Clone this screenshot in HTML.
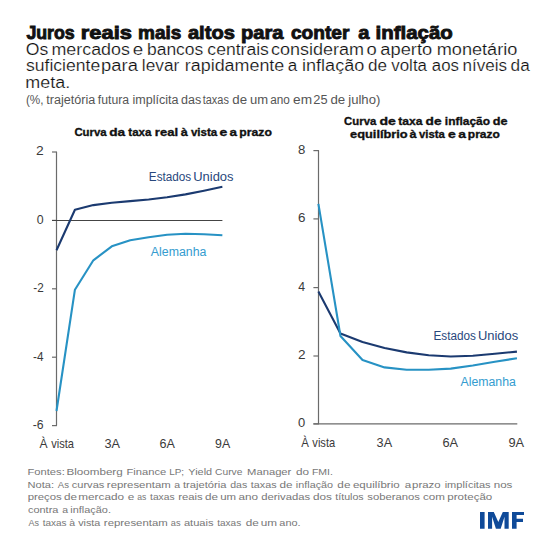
<!DOCTYPE html>
<html><head><meta charset="utf-8"><style>
html,body{margin:0;padding:0;background:#fff;width:550px;height:550px;overflow:hidden}
svg{display:block;font-family:"Liberation Sans", sans-serif}
</style></head><body>
<svg width="550" height="550" viewBox="0 0 550 550">
<rect width="550" height="550" fill="#fff"/>
<text x="26.38" y="38.7" font-size="19" font-weight="bold" fill="#111" text-anchor="start" textLength="48.39" lengthAdjust="spacingAndGlyphs" stroke="#111" stroke-width="0.9">Juros</text>
<text x="80.83" y="38.7" font-size="19" font-weight="bold" fill="#111" text-anchor="start" textLength="51.11" lengthAdjust="spacingAndGlyphs" stroke="#111" stroke-width="0.9">reais</text>
<text x="138.11" y="38.7" font-size="19" font-weight="bold" fill="#111" text-anchor="start" textLength="43.33" lengthAdjust="spacingAndGlyphs" stroke="#111" stroke-width="0.9">mais</text>
<text x="187.95" y="38.7" font-size="19" font-weight="bold" fill="#111" text-anchor="start" textLength="46.94" lengthAdjust="spacingAndGlyphs" stroke="#111" stroke-width="0.9">altos</text>
<text x="240.94" y="38.7" font-size="19" font-weight="bold" fill="#111" text-anchor="start" textLength="42.5" lengthAdjust="spacingAndGlyphs" stroke="#111" stroke-width="0.9">para</text>
<text x="290.99" y="38.7" font-size="19" font-weight="bold" fill="#111" text-anchor="start" textLength="58.43" lengthAdjust="spacingAndGlyphs" stroke="#111" stroke-width="0.9">conter</text>
<text x="358.25" y="38.7" font-size="19" font-weight="bold" fill="#111" text-anchor="start" textLength="11.18" lengthAdjust="spacingAndGlyphs" stroke="#111" stroke-width="0.9">a</text>
<text x="375.52" y="38.7" font-size="19" font-weight="bold" fill="#111" text-anchor="start" textLength="77.23" lengthAdjust="spacingAndGlyphs" stroke="#111" stroke-width="0.9">inflação</text>
<text x="25.66" y="54.5" font-size="16" font-weight="normal" fill="#111" text-anchor="start" textLength="22.56" lengthAdjust="spacingAndGlyphs" stroke="#fff" stroke-width="0.2">Os</text>
<text x="51.5" y="54.5" font-size="16" font-weight="normal" fill="#111" text-anchor="start" textLength="78.34" lengthAdjust="spacingAndGlyphs" stroke="#fff" stroke-width="0.2">mercados</text>
<text x="132.7" y="54.5" font-size="16" font-weight="normal" fill="#111" text-anchor="start" textLength="10.41" lengthAdjust="spacingAndGlyphs" stroke="#fff" stroke-width="0.2">e</text>
<text x="146.96" y="54.5" font-size="16" font-weight="normal" fill="#111" text-anchor="start" textLength="56.34" lengthAdjust="spacingAndGlyphs" stroke="#fff" stroke-width="0.2">bancos</text>
<text x="207.35" y="54.5" font-size="16" font-weight="normal" fill="#111" text-anchor="start" textLength="61.55" lengthAdjust="spacingAndGlyphs" stroke="#fff" stroke-width="0.2">centrais</text>
<text x="271.14" y="54.5" font-size="16" font-weight="normal" fill="#111" text-anchor="start" textLength="92.96" lengthAdjust="spacingAndGlyphs" stroke="#fff" stroke-width="0.2">consideram</text>
<text x="366.52" y="54.5" font-size="16" font-weight="normal" fill="#111" text-anchor="start" textLength="10.24" lengthAdjust="spacingAndGlyphs" stroke="#fff" stroke-width="0.2">o</text>
<text x="380.32" y="54.5" font-size="16" font-weight="normal" fill="#111" text-anchor="start" textLength="51.82" lengthAdjust="spacingAndGlyphs" stroke="#fff" stroke-width="0.2">aperto</text>
<text x="436.68" y="54.5" font-size="16" font-weight="normal" fill="#111" text-anchor="start" textLength="80.69" lengthAdjust="spacingAndGlyphs" stroke="#fff" stroke-width="0.2">monetário</text>
<text x="26.02" y="71.4" font-size="16" font-weight="normal" fill="#111" text-anchor="start" textLength="74.17" lengthAdjust="spacingAndGlyphs" stroke="#fff" stroke-width="0.2">suficiente</text>
<text x="101.11" y="71.4" font-size="16" font-weight="normal" fill="#111" text-anchor="start" textLength="36.78" lengthAdjust="spacingAndGlyphs" stroke="#fff" stroke-width="0.2">para</text>
<text x="141.83" y="71.4" font-size="16" font-weight="normal" fill="#111" text-anchor="start" textLength="37.43" lengthAdjust="spacingAndGlyphs" stroke="#fff" stroke-width="0.2">levar</text>
<text x="184.84" y="71.4" font-size="16" font-weight="normal" fill="#111" text-anchor="start" textLength="99.45" lengthAdjust="spacingAndGlyphs" stroke="#fff" stroke-width="0.2">rapidamente</text>
<text x="287.87" y="71.4" font-size="16" font-weight="normal" fill="#111" text-anchor="start" textLength="9.5" lengthAdjust="spacingAndGlyphs" stroke="#fff" stroke-width="0.2">a</text>
<text x="301.98" y="71.4" font-size="16" font-weight="normal" fill="#111" text-anchor="start" textLength="62.38" lengthAdjust="spacingAndGlyphs" stroke="#fff" stroke-width="0.2">inflação</text>
<text x="367.97" y="71.4" font-size="16" font-weight="normal" fill="#111" text-anchor="start" textLength="18.99" lengthAdjust="spacingAndGlyphs" stroke="#fff" stroke-width="0.2">de</text>
<text x="391.26" y="71.4" font-size="16" font-weight="normal" fill="#111" text-anchor="start" textLength="35.74" lengthAdjust="spacingAndGlyphs" stroke="#fff" stroke-width="0.2">volta</text>
<text x="431.79" y="71.4" font-size="16" font-weight="normal" fill="#111" text-anchor="start" textLength="27.1" lengthAdjust="spacingAndGlyphs" stroke="#fff" stroke-width="0.2">aos</text>
<text x="462.55" y="71.4" font-size="16" font-weight="normal" fill="#111" text-anchor="start" textLength="44.55" lengthAdjust="spacingAndGlyphs" stroke="#fff" stroke-width="0.2">níveis</text>
<text x="510.57" y="71.4" font-size="16" font-weight="normal" fill="#111" text-anchor="start" textLength="19.13" lengthAdjust="spacingAndGlyphs" stroke="#fff" stroke-width="0.2">da</text>
<text x="25.29" y="87.9" font-size="16" font-weight="normal" fill="#111" text-anchor="start" textLength="44.84" lengthAdjust="spacingAndGlyphs" stroke="#fff" stroke-width="0.2">meta.</text>
<text x="25.97" y="104" font-size="12.5" font-weight="normal" fill="#555" text-anchor="start" textLength="17.59" lengthAdjust="spacingAndGlyphs">(%,</text>
<text x="46.21" y="104" font-size="12.5" font-weight="normal" fill="#555" text-anchor="start" textLength="49.07" lengthAdjust="spacingAndGlyphs">trajetória</text>
<text x="97.82" y="104" font-size="12.5" font-weight="normal" fill="#555" text-anchor="start" textLength="31.28" lengthAdjust="spacingAndGlyphs">futura</text>
<text x="132.45" y="104" font-size="12.5" font-weight="normal" fill="#555" text-anchor="start" textLength="46.02" lengthAdjust="spacingAndGlyphs">implícita</text>
<text x="180.97" y="104" font-size="12.5" font-weight="normal" fill="#555" text-anchor="start" textLength="20.17" lengthAdjust="spacingAndGlyphs">das</text>
<text x="202.74" y="104" font-size="12.5" font-weight="normal" fill="#555" text-anchor="start" textLength="26.15" lengthAdjust="spacingAndGlyphs">taxas</text>
<text x="232.34" y="104" font-size="12.5" font-weight="normal" fill="#555" text-anchor="start" textLength="14.76" lengthAdjust="spacingAndGlyphs">de</text>
<text x="250.05" y="104" font-size="12.5" font-weight="normal" fill="#555" text-anchor="start" textLength="18.12" lengthAdjust="spacingAndGlyphs">um</text>
<text x="270.2" y="104" font-size="12.5" font-weight="normal" fill="#555" text-anchor="start" textLength="19.69" lengthAdjust="spacingAndGlyphs">ano</text>
<text x="293.12" y="104" font-size="12.5" font-weight="normal" fill="#555" text-anchor="start" textLength="18.99" lengthAdjust="spacingAndGlyphs">em</text>
<text x="313.26" y="104" font-size="12.5" font-weight="normal" fill="#555" text-anchor="start" textLength="14.29" lengthAdjust="spacingAndGlyphs">25</text>
<text x="330.44" y="104" font-size="12.5" font-weight="normal" fill="#555" text-anchor="start" textLength="14.76" lengthAdjust="spacingAndGlyphs">de</text>
<text x="348.23" y="104" font-size="12.5" font-weight="normal" fill="#555" text-anchor="start" textLength="32.07" lengthAdjust="spacingAndGlyphs">julho)</text>
<text x="74.42" y="136.1" font-size="11.7" font-weight="bold" fill="#111" text-anchor="start" textLength="32.24" lengthAdjust="spacingAndGlyphs" stroke="#111" stroke-width="0.35">Curva</text>
<text x="109.23" y="136.1" font-size="11.7" font-weight="bold" fill="#111" text-anchor="start" textLength="15.92" lengthAdjust="spacingAndGlyphs" stroke="#111" stroke-width="0.35">da</text>
<text x="128.33" y="136.1" font-size="11.7" font-weight="bold" fill="#111" text-anchor="start" textLength="23.13" lengthAdjust="spacingAndGlyphs" stroke="#111" stroke-width="0.35">taxa</text>
<text x="154.83" y="136.1" font-size="11.7" font-weight="bold" fill="#111" text-anchor="start" textLength="23.2" lengthAdjust="spacingAndGlyphs" stroke="#111" stroke-width="0.35">real</text>
<text x="180.86" y="136.1" font-size="11.7" font-weight="bold" fill="#111" text-anchor="start" textLength="7.02" lengthAdjust="spacingAndGlyphs" stroke="#111" stroke-width="0.35">à</text>
<text x="190.92" y="136.1" font-size="11.7" font-weight="bold" fill="#111" text-anchor="start" textLength="26.34" lengthAdjust="spacingAndGlyphs" stroke="#111" stroke-width="0.35">vista</text>
<text x="219.55" y="136.1" font-size="11.7" font-weight="bold" fill="#111" text-anchor="start" textLength="7.81" lengthAdjust="spacingAndGlyphs" stroke="#111" stroke-width="0.35">e</text>
<text x="229.57" y="136.1" font-size="11.7" font-weight="bold" fill="#111" text-anchor="start" textLength="7.47" lengthAdjust="spacingAndGlyphs" stroke="#111" stroke-width="0.35">a</text>
<text x="239.38" y="136.1" font-size="11.7" font-weight="bold" fill="#111" text-anchor="start" textLength="32.53" lengthAdjust="spacingAndGlyphs" stroke="#111" stroke-width="0.35">prazo</text>
<text x="344.12" y="124.7" font-size="11.7" font-weight="bold" fill="#111" text-anchor="start" textLength="32.14" lengthAdjust="spacingAndGlyphs" stroke="#111" stroke-width="0.35">Curva</text>
<text x="379.42" y="124.7" font-size="11.7" font-weight="bold" fill="#111" text-anchor="start" textLength="16.39" lengthAdjust="spacingAndGlyphs" stroke="#111" stroke-width="0.35">de</text>
<text x="398.22" y="124.7" font-size="11.7" font-weight="bold" fill="#111" text-anchor="start" textLength="24.23" lengthAdjust="spacingAndGlyphs" stroke="#111" stroke-width="0.35">taxa</text>
<text x="425.63" y="124.7" font-size="11.7" font-weight="bold" fill="#111" text-anchor="start" textLength="15.97" lengthAdjust="spacingAndGlyphs" stroke="#111" stroke-width="0.35">de</text>
<text x="444.84" y="124.7" font-size="11.7" font-weight="bold" fill="#111" text-anchor="start" textLength="45.15" lengthAdjust="spacingAndGlyphs" stroke="#111" stroke-width="0.35">inflação</text>
<text x="492.67" y="124.7" font-size="11.7" font-weight="bold" fill="#111" text-anchor="start" textLength="14.79" lengthAdjust="spacingAndGlyphs" stroke="#111" stroke-width="0.35">de</text>
<text x="350.06" y="138.2" font-size="11.7" font-weight="bold" fill="#111" text-anchor="start" textLength="57.65" lengthAdjust="spacingAndGlyphs" stroke="#111" stroke-width="0.35">equilíbrio</text>
<text x="409.46" y="138.2" font-size="11.7" font-weight="bold" fill="#111" text-anchor="start" textLength="7.02" lengthAdjust="spacingAndGlyphs" stroke="#111" stroke-width="0.35">à</text>
<text x="419.02" y="138.2" font-size="11.7" font-weight="bold" fill="#111" text-anchor="start" textLength="25.84" lengthAdjust="spacingAndGlyphs" stroke="#111" stroke-width="0.35">vista</text>
<text x="447.92" y="138.2" font-size="11.7" font-weight="bold" fill="#111" text-anchor="start" textLength="7.78" lengthAdjust="spacingAndGlyphs" stroke="#111" stroke-width="0.35">e</text>
<text x="458.36" y="138.2" font-size="11.7" font-weight="bold" fill="#111" text-anchor="start" textLength="7.68" lengthAdjust="spacingAndGlyphs" stroke="#111" stroke-width="0.35">a</text>
<text x="467.8" y="138.2" font-size="11.7" font-weight="bold" fill="#111" text-anchor="start" textLength="32.0" lengthAdjust="spacingAndGlyphs" stroke="#111" stroke-width="0.35">prazo</text>
<path d="M56.5 152V425.6" stroke="#6b6b6b" stroke-width="1.2" fill="none"/>
<path d="M52 152H57" stroke="#6b6b6b" stroke-width="1.2"/>
<text x="36.11" y="155.3" font-size="12.6" font-weight="normal" fill="#3a3a3a" text-anchor="start" textLength="7.7" lengthAdjust="spacingAndGlyphs">2</text>
<path d="M52 220.4H57" stroke="#6b6b6b" stroke-width="1.2"/>
<text x="36.71" y="223.70000000000002" font-size="12.6" font-weight="normal" fill="#3a3a3a" text-anchor="start" textLength="6.87" lengthAdjust="spacingAndGlyphs">0</text>
<path d="M52 288.8H57" stroke="#6b6b6b" stroke-width="1.2"/>
<text x="33.27" y="292.1" font-size="12.6" font-weight="normal" fill="#3a3a3a" text-anchor="start" textLength="10.43" lengthAdjust="spacingAndGlyphs">-2</text>
<path d="M52 357.2H57" stroke="#6b6b6b" stroke-width="1.2"/>
<text x="32.97" y="360.5" font-size="12.6" font-weight="normal" fill="#3a3a3a" text-anchor="start" textLength="10.47" lengthAdjust="spacingAndGlyphs">-4</text>
<path d="M52 425.6H57" stroke="#6b6b6b" stroke-width="1.2"/>
<text x="32.75" y="428.90000000000003" font-size="12.6" font-weight="normal" fill="#3a3a3a" text-anchor="start" textLength="10.89" lengthAdjust="spacingAndGlyphs">-6</text>
<path d="M52 220.5H222.4" stroke="#444" stroke-width="1.2"/>
<text x="39.57" y="447.7" font-size="12.6" font-weight="normal" fill="#3a3a3a" text-anchor="start" textLength="8.05" lengthAdjust="spacingAndGlyphs">À</text>
<text x="51.17" y="447.7" font-size="12.6" font-weight="normal" fill="#3a3a3a" text-anchor="start" textLength="22.81" lengthAdjust="spacingAndGlyphs">vista</text>
<text x="104.42" y="447.7" font-size="12.6" font-weight="normal" fill="#3a3a3a" text-anchor="start" textLength="15.52" lengthAdjust="spacingAndGlyphs">3A</text>
<text x="159.57" y="447.7" font-size="12.6" font-weight="normal" fill="#3a3a3a" text-anchor="start" textLength="15.37" lengthAdjust="spacingAndGlyphs">6A</text>
<text x="215.11" y="447.7" font-size="12.6" font-weight="normal" fill="#3a3a3a" text-anchor="start" textLength="15.13" lengthAdjust="spacingAndGlyphs">9A</text>
<polyline points="56.50,250.20 74.93,209.70 93.36,205.10 111.79,202.70 130.22,201.10 148.65,199.50 167.08,197.30 185.51,194.40 203.94,190.70 222.37,186.80" stroke="#1b3a70" stroke-width="2.1" fill="none" stroke-linejoin="round"/>
<polyline points="56.50,411.00 74.93,289.70 93.36,260.30 111.79,246.30 130.22,240.20 148.65,237.20 167.08,234.80 185.51,233.80 203.94,234.20 222.37,235.20" stroke="#2792c4" stroke-width="2.1" fill="none" stroke-linejoin="round"/>
<text x="148.83" y="181" font-size="12" font-weight="normal" fill="#28477c" text-anchor="start" textLength="42.39" lengthAdjust="spacingAndGlyphs">Estados</text>
<text x="193.2" y="181" font-size="12" font-weight="normal" fill="#28477c" text-anchor="start" textLength="40.36" lengthAdjust="spacingAndGlyphs">Unidos</text>
<text x="150.87" y="256.3" font-size="12" font-weight="normal" fill="#349ccf" text-anchor="start" textLength="55.61" lengthAdjust="spacingAndGlyphs">Alemanha</text>
<path d="M318.5 150.6V423.9" stroke="#6b6b6b" stroke-width="1.2" fill="none"/>
<path d="M313.4 150.6H319" stroke="#6b6b6b" stroke-width="1.2"/>
<text x="298.04" y="153.9" font-size="12.6" font-weight="normal" fill="#3a3a3a" text-anchor="start" textLength="7.34" lengthAdjust="spacingAndGlyphs">8</text>
<path d="M313.4 218.9H319" stroke="#6b6b6b" stroke-width="1.2"/>
<text x="297.93" y="222.20000000000002" font-size="12.6" font-weight="normal" fill="#3a3a3a" text-anchor="start" textLength="7.46" lengthAdjust="spacingAndGlyphs">6</text>
<path d="M313.4 287.6H319" stroke="#6b6b6b" stroke-width="1.2"/>
<text x="298.32" y="290.90000000000003" font-size="12.6" font-weight="normal" fill="#3a3a3a" text-anchor="start" textLength="6.83" lengthAdjust="spacingAndGlyphs">4</text>
<path d="M313.4 356H319" stroke="#6b6b6b" stroke-width="1.2"/>
<text x="297.92" y="359.3" font-size="12.6" font-weight="normal" fill="#3a3a3a" text-anchor="start" textLength="7.58" lengthAdjust="spacingAndGlyphs">2</text>
<path d="M313.4 423.9H319" stroke="#6b6b6b" stroke-width="1.2"/>
<text x="298.08" y="427.2" font-size="12.6" font-weight="normal" fill="#3a3a3a" text-anchor="start" textLength="7.22" lengthAdjust="spacingAndGlyphs">0</text>
<path d="M313.4 423.9H517.3" stroke="#6b6b6b" stroke-width="1.2"/>
<text x="301.17" y="446.8" font-size="12.6" font-weight="normal" fill="#3a3a3a" text-anchor="start" textLength="7.65" lengthAdjust="spacingAndGlyphs">À</text>
<text x="312.37" y="446.8" font-size="12.6" font-weight="normal" fill="#3a3a3a" text-anchor="start" textLength="22.81" lengthAdjust="spacingAndGlyphs">vista</text>
<text x="376.62" y="446.8" font-size="12.6" font-weight="normal" fill="#3a3a3a" text-anchor="start" textLength="15.52" lengthAdjust="spacingAndGlyphs">3A</text>
<text x="442.46" y="446.8" font-size="12.6" font-weight="normal" fill="#3a3a3a" text-anchor="start" textLength="15.68" lengthAdjust="spacingAndGlyphs">6A</text>
<text x="508.49" y="446.8" font-size="12.6" font-weight="normal" fill="#3a3a3a" text-anchor="start" textLength="15.65" lengthAdjust="spacingAndGlyphs">9A</text>
<polyline points="318.40,291.60 340.46,333.60 362.52,342.00 384.58,348.00 406.64,352.40 428.70,355.30 450.76,356.50 472.82,355.70 494.88,353.80 516.94,351.60" stroke="#1b3a70" stroke-width="2.1" fill="none" stroke-linejoin="round"/>
<polyline points="318.40,203.80 340.46,336.00 362.52,360.00 384.58,367.40 406.64,369.80 428.70,369.80 450.76,368.60 472.82,365.50 494.88,361.80 516.94,358.20" stroke="#2792c4" stroke-width="2.1" fill="none" stroke-linejoin="round"/>
<text x="433.53" y="339.6" font-size="12" font-weight="normal" fill="#28477c" text-anchor="start" textLength="42.39" lengthAdjust="spacingAndGlyphs">Estados</text>
<text x="477.9" y="339.6" font-size="12" font-weight="normal" fill="#28477c" text-anchor="start" textLength="40.36" lengthAdjust="spacingAndGlyphs">Unidos</text>
<text x="460.47" y="386.4" font-size="12" font-weight="normal" fill="#349ccf" text-anchor="start" textLength="55.41" lengthAdjust="spacingAndGlyphs">Alemanha</text>
<text x="27.48" y="475" font-size="9.8" font-weight="normal" fill="#777" text-anchor="start" textLength="37.33" lengthAdjust="spacingAndGlyphs">Fontes:</text>
<text x="66.44" y="475" font-size="9.8" font-weight="normal" fill="#777" text-anchor="start" textLength="56.3" lengthAdjust="spacingAndGlyphs">Bloomberg</text>
<text x="126.48" y="475" font-size="9.8" font-weight="normal" fill="#777" text-anchor="start" textLength="39.8" lengthAdjust="spacingAndGlyphs">Finance</text>
<text x="169.18" y="475" font-size="9.8" font-weight="normal" fill="#777" text-anchor="start" textLength="14.93" lengthAdjust="spacingAndGlyphs">LP;</text>
<text x="188.36" y="475" font-size="9.8" font-weight="normal" fill="#777" text-anchor="start" textLength="23.74" lengthAdjust="spacingAndGlyphs">Yield</text>
<text x="215.09" y="475" font-size="9.8" font-weight="normal" fill="#777" text-anchor="start" textLength="27.35" lengthAdjust="spacingAndGlyphs">Curve</text>
<text x="247.07" y="475" font-size="9.8" font-weight="normal" fill="#777" text-anchor="start" textLength="44.29" lengthAdjust="spacingAndGlyphs">Manager</text>
<text x="296.06" y="475" font-size="9.8" font-weight="normal" fill="#777" text-anchor="start" textLength="13.08" lengthAdjust="spacingAndGlyphs">do</text>
<text x="311.93" y="475" font-size="9.8" font-weight="normal" fill="#777" text-anchor="start" textLength="21.01" lengthAdjust="spacingAndGlyphs">FMI.</text>
<text x="27.48" y="487.7" font-size="9.8" font-weight="normal" fill="#777" text-anchor="start" textLength="26.52" lengthAdjust="spacingAndGlyphs">Nota:</text>
<text x="57.78" y="487.7" font-size="9.8" font-weight="normal" fill="#777" text-anchor="start" textLength="11.15" lengthAdjust="spacingAndGlyphs">As</text>
<text x="71.73" y="487.7" font-size="9.8" font-weight="normal" fill="#777" text-anchor="start" textLength="32.66" lengthAdjust="spacingAndGlyphs">curvas</text>
<text x="106.86" y="487.7" font-size="9.8" font-weight="normal" fill="#777" text-anchor="start" textLength="63.9" lengthAdjust="spacingAndGlyphs">representam</text>
<text x="174.35" y="487.7" font-size="9.8" font-weight="normal" fill="#777" text-anchor="start" textLength="5.83" lengthAdjust="spacingAndGlyphs">a</text>
<text x="183.03" y="487.7" font-size="9.8" font-weight="normal" fill="#777" text-anchor="start" textLength="43.35" lengthAdjust="spacingAndGlyphs">trajetória</text>
<text x="230.15" y="487.7" font-size="9.8" font-weight="normal" fill="#777" text-anchor="start" textLength="17.02" lengthAdjust="spacingAndGlyphs">das</text>
<text x="250.84" y="487.7" font-size="9.8" font-weight="normal" fill="#777" text-anchor="start" textLength="25.74" lengthAdjust="spacingAndGlyphs">taxas</text>
<text x="279.57" y="487.7" font-size="9.8" font-weight="normal" fill="#777" text-anchor="start" textLength="13.08" lengthAdjust="spacingAndGlyphs">de</text>
<text x="295.87" y="487.7" font-size="9.8" font-weight="normal" fill="#777" text-anchor="start" textLength="37.18" lengthAdjust="spacingAndGlyphs">inflação</text>
<text x="337.37" y="487.7" font-size="9.8" font-weight="normal" fill="#777" text-anchor="start" textLength="13.08" lengthAdjust="spacingAndGlyphs">de</text>
<text x="352.91" y="487.7" font-size="9.8" font-weight="normal" fill="#777" text-anchor="start" textLength="46.76" lengthAdjust="spacingAndGlyphs">equilíbrio</text>
<text x="404.7" y="487.7" font-size="9.8" font-weight="normal" fill="#777" text-anchor="start" textLength="6.48" lengthAdjust="spacingAndGlyphs">a</text>
<text x="412.06" y="487.7" font-size="9.8" font-weight="normal" fill="#777" text-anchor="start" textLength="28.51" lengthAdjust="spacingAndGlyphs">prazo</text>
<text x="444.66" y="487.7" font-size="9.8" font-weight="normal" fill="#777" text-anchor="start" textLength="45.93" lengthAdjust="spacingAndGlyphs">implícitas</text>
<text x="493.72" y="487.7" font-size="9.8" font-weight="normal" fill="#777" text-anchor="start" textLength="18.69" lengthAdjust="spacingAndGlyphs">nos</text>
<text x="27.66" y="500.1" font-size="9.8" font-weight="normal" fill="#777" text-anchor="start" textLength="34.13" lengthAdjust="spacingAndGlyphs">preços</text>
<text x="63.9" y="500.1" font-size="9.8" font-weight="normal" fill="#777" text-anchor="start" textLength="13.02" lengthAdjust="spacingAndGlyphs">de</text>
<text x="78.27" y="500.1" font-size="9.8" font-weight="normal" fill="#777" text-anchor="start" textLength="45.75" lengthAdjust="spacingAndGlyphs">mercado</text>
<text x="127.74" y="500.1" font-size="9.8" font-weight="normal" fill="#777" text-anchor="start" textLength="6.54" lengthAdjust="spacingAndGlyphs">e</text>
<text x="137.23" y="500.1" font-size="9.8" font-weight="normal" fill="#777" text-anchor="start" textLength="9.08" lengthAdjust="spacingAndGlyphs">as</text>
<text x="150.05" y="500.1" font-size="9.8" font-weight="normal" fill="#777" text-anchor="start" textLength="24.51" lengthAdjust="spacingAndGlyphs">taxas</text>
<text x="178.26" y="500.1" font-size="9.8" font-weight="normal" fill="#777" text-anchor="start" textLength="24.53" lengthAdjust="spacingAndGlyphs">reais</text>
<text x="204.9" y="500.1" font-size="9.8" font-weight="normal" fill="#777" text-anchor="start" textLength="13.02" lengthAdjust="spacingAndGlyphs">de</text>
<text x="220.26" y="500.1" font-size="9.8" font-weight="normal" fill="#777" text-anchor="start" textLength="15.91" lengthAdjust="spacingAndGlyphs">um</text>
<text x="238.5" y="500.1" font-size="9.8" font-weight="normal" fill="#777" text-anchor="start" textLength="19.58" lengthAdjust="spacingAndGlyphs">ano</text>
<text x="261.32" y="500.1" font-size="9.8" font-weight="normal" fill="#777" text-anchor="start" textLength="48.89" lengthAdjust="spacingAndGlyphs">derivadas</text>
<text x="312.9" y="500.1" font-size="9.8" font-weight="normal" fill="#777" text-anchor="start" textLength="18.91" lengthAdjust="spacingAndGlyphs">dos</text>
<text x="335.34" y="500.1" font-size="9.8" font-weight="normal" fill="#777" text-anchor="start" textLength="28.34" lengthAdjust="spacingAndGlyphs">títulos</text>
<text x="367.29" y="500.1" font-size="9.8" font-weight="normal" fill="#777" text-anchor="start" textLength="52.71" lengthAdjust="spacingAndGlyphs">soberanos</text>
<text x="422.91" y="500.1" font-size="9.8" font-weight="normal" fill="#777" text-anchor="start" textLength="21.97" lengthAdjust="spacingAndGlyphs">com</text>
<text x="447.35" y="500.1" font-size="9.8" font-weight="normal" fill="#777" text-anchor="start" textLength="44.93" lengthAdjust="spacingAndGlyphs">proteção</text>
<text x="27.93" y="512.8" font-size="9.8" font-weight="normal" fill="#777" text-anchor="start" textLength="30.46" lengthAdjust="spacingAndGlyphs">contra</text>
<text x="62.15" y="512.8" font-size="9.8" font-weight="normal" fill="#777" text-anchor="start" textLength="5.83" lengthAdjust="spacingAndGlyphs">a</text>
<text x="70.26" y="512.8" font-size="9.8" font-weight="normal" fill="#777" text-anchor="start" textLength="40.72" lengthAdjust="spacingAndGlyphs">inflação.</text>
<text x="28.38" y="525.5" font-size="9.8" font-weight="normal" fill="#777" text-anchor="start" textLength="10.53" lengthAdjust="spacingAndGlyphs">As</text>
<text x="42.65" y="525.5" font-size="9.8" font-weight="normal" fill="#777" text-anchor="start" textLength="23.9" lengthAdjust="spacingAndGlyphs">taxas</text>
<text x="69.35" y="525.5" font-size="9.8" font-weight="normal" fill="#777" text-anchor="start" textLength="5.83" lengthAdjust="spacingAndGlyphs">à</text>
<text x="78.17" y="525.5" font-size="9.8" font-weight="normal" fill="#777" text-anchor="start" textLength="22.21" lengthAdjust="spacingAndGlyphs">vista</text>
<text x="103.86" y="525.5" font-size="9.8" font-weight="normal" fill="#777" text-anchor="start" textLength="63.9" lengthAdjust="spacingAndGlyphs">representam</text>
<text x="170.81" y="525.5" font-size="9.8" font-weight="normal" fill="#777" text-anchor="start" textLength="9.72" lengthAdjust="spacingAndGlyphs">as</text>
<text x="183.93" y="525.5" font-size="9.8" font-weight="normal" fill="#777" text-anchor="start" textLength="29.67" lengthAdjust="spacingAndGlyphs">atuais</text>
<text x="217.25" y="525.5" font-size="9.8" font-weight="normal" fill="#777" text-anchor="start" textLength="23.9" lengthAdjust="spacingAndGlyphs">taxas</text>
<text x="245.67" y="525.5" font-size="9.8" font-weight="normal" fill="#777" text-anchor="start" textLength="13.08" lengthAdjust="spacingAndGlyphs">de</text>
<text x="260.84" y="525.5" font-size="9.8" font-weight="normal" fill="#777" text-anchor="start" textLength="16.34" lengthAdjust="spacingAndGlyphs">um</text>
<text x="279.34" y="525.5" font-size="9.8" font-weight="normal" fill="#777" text-anchor="start" textLength="21.26" lengthAdjust="spacingAndGlyphs">ano.</text>
<path fill="#0f4a99" d="M480 512H484.6V528.8H480Z M488 528.7V512.1H493.8L498.3 522L502.8 512.1H508.7V528.7H504.5V516.8L500.7 528.7H495.9L492.1 516.8V528.7Z M512 512H524V515.1H516.6V518.8H523V522H516.6V528.8H512Z"/>
</svg>
</body></html>
